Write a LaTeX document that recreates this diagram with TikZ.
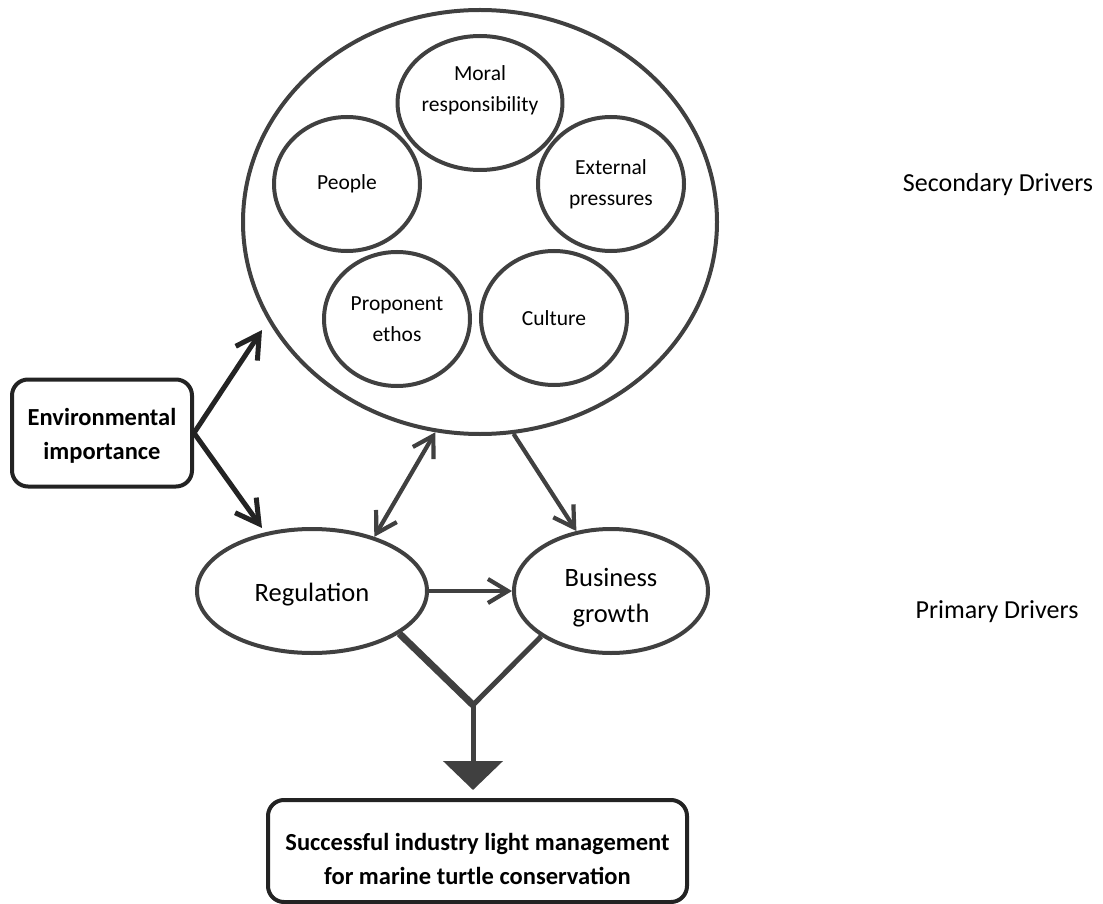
\documentclass[tikz,border=0pt]{standalone}
\usepackage{fontspec}
\setmainfont{Carlito}
\usetikzlibrary{arrows.meta,shapes.geometric}
\definecolor{linegray}{HTML}{404040}
\definecolor{boxblack}{HTML}{232323}

\begin{document}
\begin{tikzpicture}[x=1pt,y=-1pt,
  >={Straight Barb[length=20pt,width=24pt]},
  factor/.style={draw=linegray,line width=4pt,ellipse,inner sep=0pt,
    minimum width=146pt,minimum height=134pt,align=center,
    font=\fontsize{21.5}{31}\selectfont},
  driver/.style={draw=linegray,line width=4pt,ellipse,inner sep=0pt,
    minimum height=124pt,align=center,font=\fontsize{26.5}{36}\selectfont},
  keybox/.style={draw=boxblack,line width=4pt,rounded corners=16pt,
    align=center,font=\bfseries\fontsize{24.5}{34}\selectfont},
  link/.style={draw=linegray,line width=4.2pt},
  strong/.style={draw=boxblack,line width=5pt,
    -{Straight Barb[length=23pt,width=26pt]}},
  tier/.style={font=\fontsize{26}{31}\selectfont}]
\useasboundingbox (0,0) rectangle (1103,904);
%Secondary drivers
\node[draw=linegray,line width=4pt,ellipse,minimum width=474pt,minimum height=424pt] (drivers) at (480,222) {};
\node[factor,text depth=29pt] (moral) at (480,103) {Moral\\responsibility};
\node[factor] (people) at (347,184) {People};
\node[factor] (external) at (611,184) {External\\pressures};
\node[factor] (ethos) at (397,319) {Proponent\\ethos};
\node[factor] (culture) at (554,318) {Culture};
%Primary drivers
\node[driver,minimum width=230pt,text height=25pt] (reg) at (312,591) {Regulation};
\node[driver,minimum width=194pt,text height=68pt] (bus) at (611,591) {Business\\growth};
%Boxes
\node[keybox,minimum width=180pt,minimum height=107pt,text height=56pt] (env) at (102,433) {Environmental\\importance};
\node[keybox,minimum width=419pt,minimum height=102pt,text height=68pt] (goal) at (477.5,851) {Successful industry light management\\for marine turtle conservation};
\node[tier] (secondary) at (998,185) {Secondary Drivers};
\node[tier] (primary) at (997,612) {Primary Drivers};
%Arrows
\coordinate (sec-tip) at (262,330);
\coordinate (reg-tip) at (262,528);
\draw[strong] (env.east) -- (sec-tip);
\draw[strong] (env.east) -- (reg-tip);
\draw[link,<->] (reg.41.5) -- (drivers.258);
\draw[link,->] (drivers.279.5) -- (bus.120.8);
\draw[link,->] (reg.east) -- (bus.west);
%Merge into the goal
\coordinate (join) at (473,705);
\draw[draw=linegray,line width=7pt] (reg.334) -- (join);
\draw[draw=linegray,line width=5pt] (bus.213.5) -- (join);
\draw[draw=linegray,line width=5pt,-{Triangle[length=29pt,width=59pt]},shorten >=8pt] (join) -- (join |- goal.north);
\end{tikzpicture}
\end{document}
